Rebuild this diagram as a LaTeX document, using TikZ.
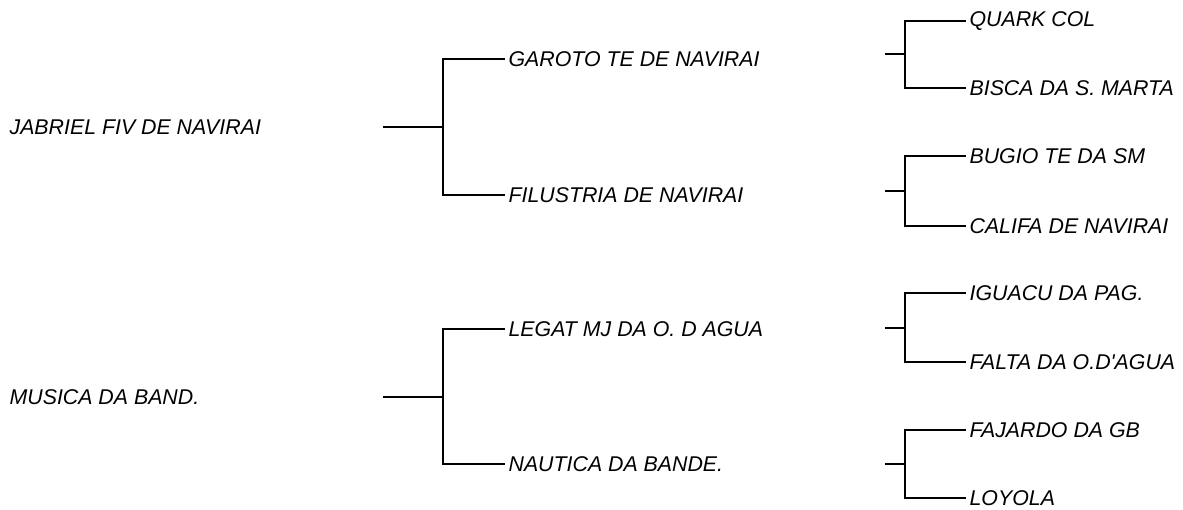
\documentclass[tikz,border=0pt]{standalone}
\usepackage{fontspec}
\setmainfont{Liberation Sans}[Ligatures=TeXOff]

\begin{document}
\begin{tikzpicture}[x=0.75pt,y=0.75pt,yscale=-1,xscale=1,
		horse/.style={anchor=west, inner sep=2.5pt, font=\fontsize{16}{19}\selectfont\itshape},
		link/.style={black, line width=1.3pt}]
		% Set diagram size to 1183 x 510
		\useasboundingbox (0,0) rectangle (1183,510);

		% First column: the two horses
		\node[horse] (jabriel) at (6,127) {JABRIEL FIV DE NAVIRAI};
		\node[horse] (musica) at (6,397) {MUSICA DA BAND.};

		% Second column: parents
		\node[horse] (garoto) at (505,59) {GAROTO TE DE NAVIRAI};
		\node[horse] (filustria) at (505,195) {FILUSTRIA DE NAVIRAI};
		\node[horse] (legat) at (505,329) {LEGAT MJ DA O. D AGUA};
		\node[horse] (nautica) at (505,464) {NAUTICA DA BANDE.};

		% Third column: grandparents
		\node[horse] (quark) at (966,21) {QUARK COL};
		\node[horse] (bisca) at (966,88) {BISCA DA S. MARTA};
		\node[horse] (bugio) at (966,156) {BUGIO TE DA SM};
		\node[horse] (califa) at (966,226) {CALIFA DE NAVIRAI};
		\node[horse] (iguacu) at (966,293) {IGUACU DA PAG.};
		\node[horse] (falta) at (966,362) {FALTA DA O.D'AGUA};
		\node[horse] (fajardo) at (966,430) {FAJARDO DA GB};
		\node[horse] (loyola) at (966,498) {LOYOLA};

		% Stubs and forks of the first column
		\coordinate (s1) at (383,127);
		\coordinate (j1) at (443,127);
		\coordinate (s2) at (383,397);
		\coordinate (j2) at (443,397);
		\draw[link] (s1) -- (j1);
		\draw[link] (garoto.west) -| (j1) |- (filustria.west);
		\draw[link] (s2) -- (j2);
		\draw[link] (legat.west) -| (j2) |- (nautica.west);

		% Stubs and forks of the second column
		\coordinate (s3) at (885,54);
		\coordinate (j3) at (905,54);
		\coordinate (s4) at (885,191);
		\coordinate (j4) at (905,191);
		\coordinate (s5) at (885,328);
		\coordinate (j5) at (905,328);
		\coordinate (s6) at (885,464);
		\coordinate (j6) at (905,464);
		\draw[link] (s3) -- (j3);
		\draw[link] (quark.west) -| (j3) |- (bisca.west);
		\draw[link] (s4) -- (j4);
		\draw[link] (bugio.west) -| (j4) |- (califa.west);
		\draw[link] (s5) -- (j5);
		\draw[link] (iguacu.west) -| (j5) |- (falta.west);
		\draw[link] (s6) -- (j6);
		\draw[link] (fajardo.west) -| (j6) |- (loyola.west);
	\end{tikzpicture}
\end{document}
